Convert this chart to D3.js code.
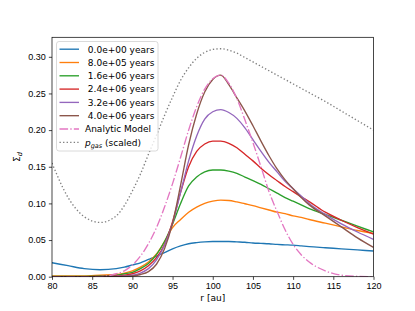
<!DOCTYPE html>
<html>
<head>
<meta charset="utf-8">
<script src="https://cdn.jsdelivr.net/npm/d3@7"></script>
<style>
  body { margin: 0; background: #fff; }
  svg { display: block; font-family: "DejaVu Sans", sans-serif; }
  .axis text { font-size: 9px; fill: #000; }
  .axis path, .axis line { stroke: #000; stroke-width: 0.72; }
</style>
</head>
<body>
<div id="chart"></div>
<script>
// radius grid (au)
var r_grid = [80,82,84,86,88,89,90,91,92,93,94,95,96,97,98,99,100,101,102,103,104,105,106,107,108,109,110,111,112,114,116,118,120];

var sig_0    = [0.019,0.015,0.011,0.0095,0.011,0.013,0.016,0.019,0.0235,0.028,0.033,0.038,0.042,0.045,0.0465,0.0475,0.048,0.048,0.048,0.0475,0.047,0.046,0.0455,0.045,0.044,0.0435,0.043,0.042,0.041,0.0395,0.038,0.0365,0.035];
var sig_8e5  = [0.001,0.001,0.001,0.002,0.003,0.005,0.008,0.013,0.020,0.031,0.048,0.067,0.078,0.088,0.095,0.100,0.103,0.1045,0.104,0.102,0.0995,0.097,0.094,0.091,0.088,0.086,0.083,0.081,0.078,0.073,0.068,0.063,0.059];
var sig_16e5 = [0.0005,0.0005,0.0005,0.001,0.002,0.004,0.006,0.011,0.018,0.030,0.048,0.072,0.100,0.124,0.136,0.143,0.1455,0.1455,0.144,0.141,0.136,0.131,0.126,0.120,0.114,0.108,0.103,0.098,0.093,0.085,0.077,0.069,0.061];
var sig_24e5 = [0,0,0,0.0005,0.001,0.002,0.004,0.008,0.015,0.026,0.044,0.075,0.115,0.150,0.171,0.181,0.185,0.185,0.182,0.176,0.167,0.158,0.148,0.139,0.131,0.123,0.116,0.109,0.1025,0.088,0.077,0.067,0.058];
var sig_32e5 = [0,0,0,0,0.0005,0.001,0.002,0.005,0.011,0.023,0.043,0.073,0.115,0.158,0.192,0.215,0.225,0.228,0.224,0.216,0.203,0.187,0.171,0.156,0.143,0.130,0.120,0.110,0.100,0.085,0.072,0.061,0.051];
var sig_4e6  = [0,0,0,0,0,0.0005,0.001,0.003,0.007,0.017,0.038,0.073,0.125,0.180,0.222,0.252,0.269,0.275,0.262,0.244,0.226,0.206,0.185,0.165,0.147,0.132,0.120,0.108,0.098,0.083,0.068,0.053,0.040];
var sig_model= [0,0,0,0.0002,0.004,0.008,0.016,0.028,0.045,0.067,0.095,0.127,0.163,0.200,0.232,0.256,0.270,0.275,0.264,0.243,0.214,0.183,0.150,0.116,0.089,0.064,0.044,0.030,0.020,0.008,0.002,0.0005,0.0001];
var p_gas    = [0.155,0.108,0.082,0.074,0.083,0.097,0.117,0.140,0.167,0.193,0.220,0.245,0.268,0.285,0.298,0.306,0.310,0.311,0.309,0.305,0.299,0.293,0.287,0.281,0.275,0.269,0.263,0.257,0.251,0.239,0.226,0.213,0.200];

var labels = [" 0.0e+00 years"," 8.0e+05 years"," 1.6e+06 years"," 2.4e+06 years"," 3.2e+06 years"," 4.0e+06 years","Analytic Model"];
var colors = ["#1f77b4","#ff7f0e","#2ca02c","#d62728","#9467bd","#8c564b","#e377c2","#7f7f7f"];
var x_ticks = [80,85,90,95,100,105,110,115,120];
var y_ticks = [0,0.05,0.10,0.15,0.20,0.25,0.30];

var fig = {w:415, h:311, padding:{l:52, r:41.5, t:37.3, b:34.3}};

var svg = d3.select('#chart').append('svg')
			.attr('width', fig.w)
			.attr('height', fig.h);

var x_scale = d3.scaleLinear()
			.domain([80,120])
			.range([fig.padding.l, fig.w-fig.padding.r]);
var y_scale = d3.scaleLinear()
			.domain([0,0.3266])
			.range([fig.h-fig.padding.b, fig.padding.t]);

var series = [sig_0,sig_8e5,sig_16e5,sig_24e5,sig_32e5,sig_4e6,sig_model,p_gas];
var dashes = [null,null,null,null,null,null,"8.6,2.2,1.35,2.2","1.35,2.2"];

var line = d3.line()
			.x((d,i)=>x_scale(r_grid[i]))
			.y(d=>y_scale(d))
			.curve(d3.curveMonotoneX);

svg.append('defs').append('clipPath').attr('id','clip')
	.append('rect')
		.attr('x', fig.padding.l).attr('y', fig.padding.t)
		.attr('width', fig.w-fig.padding.l-fig.padding.r)
		.attr('height', fig.h-fig.padding.t-fig.padding.b);

svg.append('g')
	.attr('clip-path','url(#clip)')
	.selectAll('path')
	.data(series)
	.enter()
	.append('path')
		.attr('d', d=>line(d))
		.attr('fill','none')
		.attr('stroke',(d,i)=>colors[i])
		.attr('stroke-width',1.35)
		.attr('stroke-dasharray',(d,i)=>dashes[i]);

var x_axis = d3.axisBottom(x_scale).tickValues(x_ticks).tickSize(3.15).tickPadding(3).tickFormat(d3.format('d'));
var y_axis = d3.axisLeft(y_scale).tickValues(y_ticks).tickSize(3.15).tickPadding(3).tickFormat(d3.format('.2f'));

svg.append('g')
	.attr('class','axis x')
	.attr('transform','translate(0,'+(fig.h-fig.padding.b)+')')
	.call(x_axis)
	.call(g=>g.select('.domain').remove());
svg.append('g')
	.attr('class','axis y')
	.attr('transform','translate('+fig.padding.l+',0)')
	.call(y_axis)
	.call(g=>g.select('.domain').remove());

// frame
svg.append('rect')
	.attr('x', fig.padding.l).attr('y', fig.padding.t)
	.attr('width', fig.w-fig.padding.l-fig.padding.r)
	.attr('height', fig.h-fig.padding.t-fig.padding.b)
	.attr('fill','none')
	.attr('stroke','#000')
	.attr('stroke-width',0.72);

// axis labels
svg.append('text')
	.attr('x', (fig.padding.l+fig.w-fig.padding.r)/2)
	.attr('y', 300.5)
	.attr('text-anchor','middle')
	.attr('font-size','9px')
	.text('r [au]');

var ylab = svg.append('text')
	.attr('transform','translate(20,'+((fig.padding.t+fig.h-fig.padding.b)/2)+') rotate(-90)')
	.attr('text-anchor','middle')
	.attr('font-size','9px');
ylab.append('tspan').text('Σ');
ylab.append('tspan').attr('font-size','6.5px').attr('font-style','italic').attr('dy',2).text('d');

// legend
var lg = svg.append('g').attr('transform','translate(56.5,41.5)');
lg.append('rect')
	.attr('width',101.5).attr('height',109.5)
	.attr('rx',2.5)
	.attr('fill','#fff').attr('fill-opacity',0.8)
	.attr('stroke','#cccccc').attr('stroke-width',0.72);

var all_labels = labels.concat(['p_gas']);
var items = lg.selectAll('g.item')
	.data(all_labels)
	.enter()
	.append('g')
		.attr('class','item')
		.attr('transform',(d,i)=>'translate(0,'+(7.7+i*13.3)+')');
items.append('line')
	.attr('x1',3).attr('x2',22.5)
	.attr('stroke',(d,i)=>colors[i])
	.attr('stroke-width',1.35)
	.attr('stroke-dasharray',(d,i)=>dashes[i]);
items.each(function(d,i) {
	var t = d3.select(this).append('text')
		.attr('x',28.5).attr('y',3.3)
		.attr('font-size','9px')
		.style('white-space','pre');
	if (d==='p_gas') {
		t.append('tspan').attr('font-style','italic').text('p');
		t.append('tspan').attr('font-style','italic').attr('font-size','6.5px').attr('dy',2).text('gas');
		t.append('tspan').attr('dy',-2).text(' (scaled)');
	} else {
		t.text(d);
	}
});
</script>
</body>
</html>
